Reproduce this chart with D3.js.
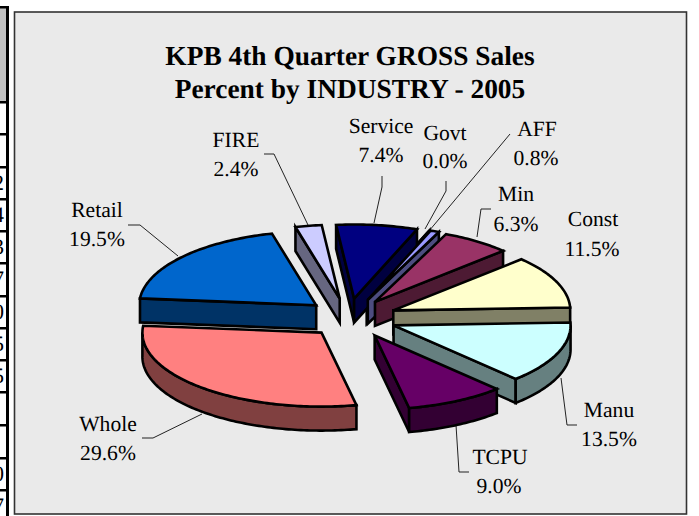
<!DOCTYPE html>
<html><head><meta charset="utf-8">
<script src="https://cdnjs.cloudflare.com/ajax/libs/d3/7.8.5/d3.min.js"></script>
<style>html,body{margin:0;padding:0;background:#fff}svg{display:block}text{text-rendering:geometricPrecision}</style></head>
<body><svg id="c" width="699" height="516"></svg>
<script>
const categories = ["AFF","Min","Const","Manu","TCPU","Whole","Retail","FIRE","Service","Govt"];
const values = [0.8,6.3,11.5,13.5,9.0,29.6,19.5,2.4,7.4,0.0];
const pctLabels = ["0.8%","6.3%","11.5%","13.5%","9.0%","29.6%","19.5%","2.4%","7.4%","0.0%"];
const titleLines = ["KPB 4th Quarter GROSS Sales","Percent by INDUSTRY - 2005"];
const stripDigits = ["","","2","4","3","7","0","5","5","","","0","7"];

const topColors = {AFF:"#9999ff",Min:"#993366",Const:"#ffffcc",Manu:"#ccffff",TCPU:"#660066",Whole:"#ff8080",Retail:"#0066cc",FIRE:"#ccccff",Service:"#000080",Govt:"#808080"};
const wallColors = {AFF:"#4d4d80",Min:"#4d1a33",Const:"#808066",Manu:"#668080",TCPU:"#330033",Whole:"#804040",Retail:"#003366",FIRE:"#666680",Service:"#000040",Govt:"#404040"};
const drawOrder = ["Govt","Service","FIRE","AFF","Min","Retail","Const","Manu","TCPU","Whole"];
const nudgeX = {Whole:3,TCPU:3,Retail:2,FIRE:-2,Service:-2,Min:-2};
const rimScale = {Whole:1.012};
const labelPos = {
 FIRE:[236,147,236,176],Service:[381,133,381,162],Govt:[445,140,445,168],AFF:[537,136,536,165],
 Min:[516,201,516,231],Const:[593,226,592,256],Manu:[609,417,609,446],TCPU:[500,464,499,493],
 Whole:[108,431,108,460],Retail:[97,217,97,246]};
const leaders = {
 FIRE:[[264,154],[274,154],[308,225]],Service:[[382,176],[382,187],[374,223]],Govt:[[446,181],[446,191],[425,229]],
 AFF:[[510,134],[429,231]],Min:[[491,209],[481,209],[477,237]],Manu:[[577,425],[567,425],[561,378]],
 TCPU:[[469,472],[459,472],[456,425]],Whole:[[142,438],[153,438],[202,414]],Retail:[[128,225],[140,225],[178,256]]};

const svg = d3.select("#c");
const deg = Math.PI/180;
const cx=350, cy=318, rx=177, ry=74, explode=47, depth=24;
// unit-circle -> pixel scales for the tilted pie
const X = d3.scaleLinear().domain([-1,1]).range([cx-rx,cx+rx]);
const Y = d3.scaleLinear().domain([-1,1]).range([cy+ry,cy-ry]);
const pt = (a,r,ox,oy,dz=0)=>[X(r*Math.sin(a))+ox-cx, Y(Math.cos(a))+oy-cy+dz];

// left strip: fragment of a neighbouring table
svg.append("rect").attr("x",0).attr("y",8).attr("width",6).attr("height",93).attr("fill","#c0c0c0");
svg.append("clipPath").attr("id","strip").append("rect").attr("x",0).attr("y",0).attr("width",6).attr("height",516);
const rows = [101,133,166,198,230,262,295,327,359,391,424,457,489];
stripDigits.forEach((d,i)=>{ if(d) svg.append("text").attr("clip-path","url(#strip)").attr("x",4).attr("y",rows[i]+24)
  .attr("text-anchor","end").attr("font-family","Liberation Serif").attr("font-size",22).attr("fill","#000").text(d);});
svg.append("rect").attr("x",0).attr("y",6).attr("width",9).attr("height",2.5).attr("fill","#000");
svg.append("rect").attr("x",6).attr("y",6).attr("width",3).attr("height",510).attr("fill","#000");
svg.selectAll("rect.row").data(rows).join("rect").attr("class","row").attr("x",0).attr("y",d=>d).attr("width",8).attr("height",2.5).attr("fill","#000");

// panel
svg.append("rect").attr("x",14.5).attr("y",12).attr("width",672).attr("height",502).attr("fill","#eaeaea").attr("stroke","#333").attr("stroke-width",1.6);

svg.selectAll("text.title").data(titleLines).join("text").attr("class","title")
  .attr("x",350).attr("y",(d,i)=>65+i*33).attr("text-anchor","middle")
  .attr("font-family","Liberation Serif").attr("font-weight","bold").attr("font-size",27.4).attr("fill","#000").text(d=>d);

// leaders under the slices
const lineGen = d3.line();
Object.entries(leaders).forEach(([k,p])=>svg.append("path").attr("d",lineGen(p)).attr("fill","none").attr("stroke","#222").attr("stroke-width",1));

const pie = d3.pie().sort(null).value(d=>d).startAngle(20.8*deg).endAngle(380.8*deg);
const arcs = pie(values).map((a,i)=>({...a,name:categories[i]}));
const byName = Object.fromEntries(arcs.map(a=>[a.name,a]));
const sty = {stroke:"#000","stroke-width":2.6,"stroke-linejoin":"miter","stroke-miterlimit":4};
const draw = (g,pts,fill)=>{const p=g.append("path").attr("d",lineGen(pts)+"Z").attr("fill",fill);
  Object.entries(sty).forEach(([k,v])=>p.attr(k,v));};

drawOrder.forEach(name=>{
  const a = byName[name], mid=(a.startAngle+a.endAngle)/2;
  const ox = explode*Math.sin(mid)+cx+(nudgeX[name]||0), oy = cy-explode*(ry/rx)*Math.cos(mid);
  const r = rimScale[name]||1;
  const g = svg.append("g").attr("data-name",name);
  const arcPts = (s,e,dz=0)=>{const n=Math.max(2,Math.ceil((e-s)/deg));return d3.range(n+1).map(i=>pt(s+(e-s)*i/n,r,ox,oy,dz));};
  const apex=[ox,oy];
  const s=a.startAngle, e=a.endAngle;
  // radial faces
  if(Math.sin(s)<0){const q=pt(s,r,ox,oy);draw(g,[apex,q,[q[0],q[1]+depth],[apex[0],apex[1]+depth]],wallColors[name]);}
  if(Math.sin(e)>0){const q=pt(e,r,ox,oy);draw(g,[apex,q,[q[0],q[1]+depth],[apex[0],apex[1]+depth]],wallColors[name]);}
  // outer wall: front half of the rim only (90deg..270deg)
  const ws=Math.max(s,90*deg), we=Math.min(e,270*deg);
  if(we>ws){const up=arcPts(ws,we), dn=arcPts(ws,we,depth).reverse();draw(g,up.concat(dn),wallColors[name]);}
  draw(g,[apex].concat(arcPts(s,e)),topColors[name]);
});

// labels
categories.forEach((c,i)=>{const p=labelPos[c];
  [[c,p[0],p[1]],[pctLabels[i],p[2],p[3]]].forEach(([t,x,y])=>svg.append("text").attr("x",x).attr("y",y).attr("text-anchor","middle")
    .attr("font-family","Liberation Serif").attr("font-size",21.6).attr("fill","#000").text(t));});
</script></body></html>
